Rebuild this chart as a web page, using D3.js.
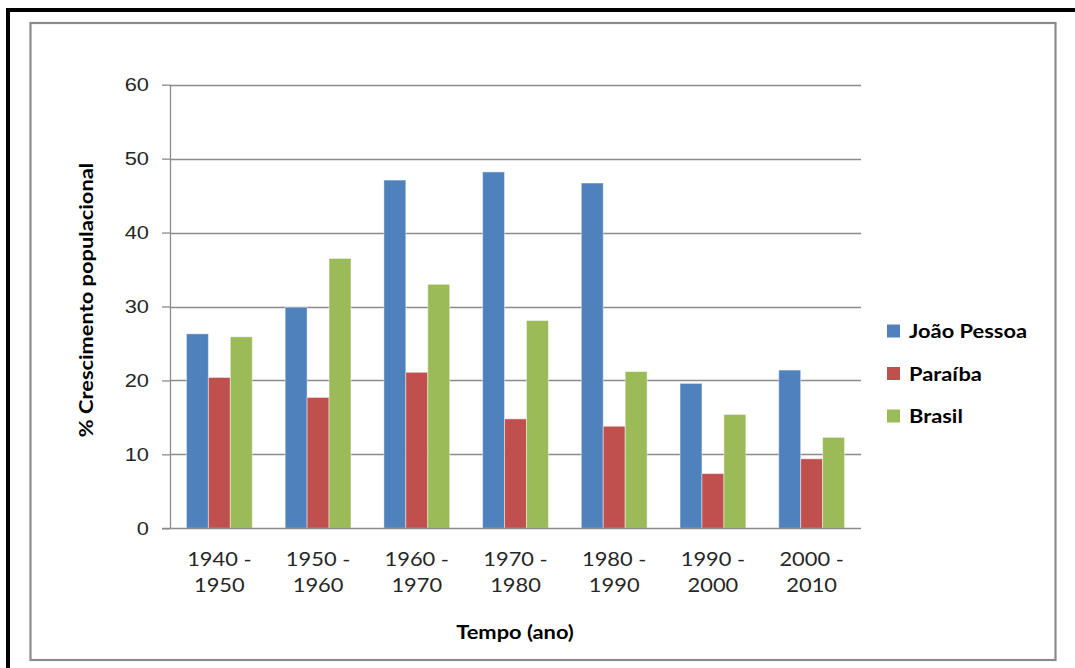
<!DOCTYPE html>
<html>
<head>
<meta charset="utf-8">
<script src="https://cdn.jsdelivr.net/npm/d3@7"></script>
<style>
  html, body { margin: 0; padding: 0; background: #fff; }
  svg { display: block; font-family: Lato, "Open Sans", sans-serif; }
</style>
</head>
<body>
<svg id="chart" width="1075" height="668"></svg>
<script>
// Population growth per decade (%)
const periods = [["1940 -", "1950"], ["1950 -", "1960"], ["1960 -", "1970"], ["1970 -", "1980"],
                 ["1980 -", "1990"], ["1990 -", "2000"], ["2000 -", "2010"]];
const seriesNames = ["João Pessoa", "Paraíba", "Brasil"];
const joaoPessoa = [26.3, 29.9, 47.1, 48.2, 46.7, 19.6, 21.4];
const paraiba    = [20.4, 17.7, 21.1, 14.8, 13.8, 7.4, 9.4];
const brasil     = [25.9, 36.5, 33.0, 28.1, 21.2, 15.4, 12.3];
const yTicks = [0, 10, 20, 30, 40, 50, 60];
const colors = ["#4F81BD", "#C0504D", "#9BBB59"];

const seriesValues = [joaoPessoa, paraiba, brasil];
const labels = periods.map(p => p.join(" "));
const sx = 1.15; // horizontal widening of the lettering

const svg = d3.select("#chart");

// frames
svg.append("line").attr("x1", 6).attr("x2", 1075).attr("y1", 10).attr("y2", 10)
  .attr("stroke", "#000").attr("stroke-width", 4);
svg.append("line").attr("x1", 8).attr("x2", 8).attr("y1", 8).attr("y2", 668)
  .attr("stroke", "#000").attr("stroke-width", 4);
svg.append("rect").attr("x", 30.5).attr("y", 23).attr("width", 1025).attr("height", 637)
  .attr("fill", "#fff").attr("stroke", "#8a8a8a").attr("stroke-width", 2.2);

const plot = { left: 170, right: 861, top: 84.7, bottom: 528.3 };

const x = d3.scaleBand().domain(labels).range([plot.left, plot.right]).padding(0);
const xs = d3.scaleBand().domain(seriesNames).range([0, x.bandwidth()])
  .paddingInner(0).paddingOuter(0.75);
const y = d3.scaleLinear().domain([0, 60]).range([plot.bottom, plot.top]);

// gridlines
svg.append("g").selectAll("line").data(yTicks.filter(t => t > 0)).join("line")
  .attr("x1", plot.left).attr("x2", plot.right)
  .attr("y1", d => Math.round(y(d)) + 0.5).attr("y2", d => Math.round(y(d)) + 0.5)
  .attr("stroke", "#8c8c8c").attr("stroke-width", 1.3);

// bars
const rows = labels.map((l, i) => ({ label: l, vals: seriesNames.map((s, j) => ({ s, v: seriesValues[j][i], j })) }));
svg.append("g").selectAll("g").data(rows).join("g")
  .attr("transform", d => `translate(${x(d.label)},0)`)
  .selectAll("rect").data(d => d.vals).join("rect")
  .attr("x", d => xs(d.s)).attr("width", xs.bandwidth())
  .attr("y", d => y(d.v)).attr("height", d => y(0) - y(d.v))
  .attr("fill", d => colors[d.j])
  .attr("stroke", "rgba(255,255,255,0.45)").attr("stroke-width", 1);

// y axis
const yAxis = svg.append("g").attr("transform", `translate(${plot.left},0)`)
  .call(d3.axisLeft(y).tickValues(yTicks).tickFormat(d3.format("d")).tickSize(8).tickPadding(13));
yAxis.select(".domain").attr("stroke", "#8c8c8c").attr("stroke-width", 1.3).attr("d", `M0.5,${plot.top}V${plot.bottom}`);
yAxis.selectAll(".tick line").attr("stroke", "#8c8c8c").attr("stroke-width", 1.3);
yAxis.selectAll(".tick text").attr("fill", "#262626").style("font-size", "19px")
  .attr("x", -21 / sx).attr("transform", `scale(${sx},1)`);

// x axis baseline
svg.append("line").attr("x1", plot.left - 8).attr("x2", plot.right)
  .attr("y1", Math.round(y(0)) + 0.5).attr("y2", Math.round(y(0)) + 0.5)
  .attr("stroke", "#8c8c8c").attr("stroke-width", 1.5);

// x category labels (two lines each)
const xl = svg.append("g").selectAll("text").data(periods).join("text")
  .attr("transform", (d, i) => `translate(${x(labels[i]) + x.bandwidth() / 2},566) scale(${sx},1)`)
  .attr("text-anchor", "middle")
  .attr("fill", "#262626").style("font-size", "19px");
xl.append("tspan").attr("x", 0).text(d => d[0]);
xl.append("tspan").attr("x", 0).attr("dy", 26.5).text(d => d[1]);

// axis titles
svg.append("text").attr("transform", `translate(515,639) scale(${sx},1)`).attr("text-anchor", "middle")
  .style("font-size", "19px").style("font-weight", "bold").attr("fill", "#000")
  .text("Tempo (ano)");
svg.append("text").attr("transform", `translate(93,300) rotate(-90) scale(${sx},1)`).attr("text-anchor", "middle")
  .style("font-size", "19px").style("font-weight", "bold").attr("fill", "#000")
  .text("% Crescimento  populacional");

// legend
const lg = svg.append("g").selectAll("g").data(seriesNames).join("g")
  .attr("transform", (d, i) => `translate(887,${331 + i * 42.5})`);
lg.append("rect").attr("x", 0).attr("y", -6.5).attr("width", 13).attr("height", 13)
  .attr("fill", (d, i) => colors[i]);
lg.append("text").attr("transform", `translate(22,7) scale(${sx},1)`)
  .style("font-size", "19px").style("font-weight", "bold").attr("fill", "#000")
  .text(d => d);
</script>
</body>
</html>
